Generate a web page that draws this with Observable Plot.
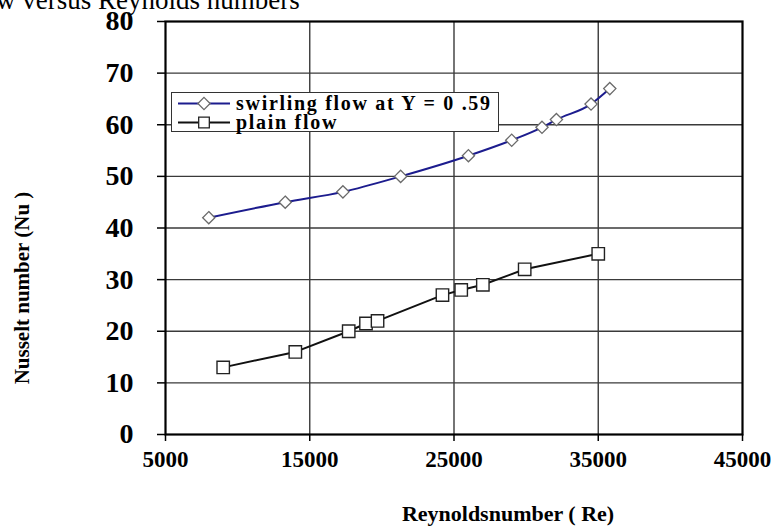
<!DOCTYPE html>
<html>
<head>
<meta charset="utf-8">
<script src="https://cdn.jsdelivr.net/npm/d3@7"></script>
<script src="https://cdn.jsdelivr.net/npm/@observablehq/plot@0.6"></script>
<style>
  html, body { margin: 0; padding: 0; background: #fff; }
  #wrap { position: relative; width: 778px; height: 526px; overflow: hidden; font-family: "Liberation Serif", "Times New Roman", serif; }
  #title { position: absolute; left: -4px; top: -10px; font-size: 27px; line-height: 20px; white-space: nowrap; color: #000; }
  #legend { position: absolute; left: 171px; top: 92px; width: 328px; height: 40px; border: 1.5px solid #333; background: #fff; box-sizing: border-box; }
  #legend .row { position: absolute; left: 0; height: 19px; display: flex; align-items: center; }
  #legend .lbl { font-weight: bold; font-size: 20px; line-height: 17px; letter-spacing: 1.7px; margin-left: 5px; white-space: nowrap; }
  svg text { font-family: "Liberation Serif", "Times New Roman", serif; }
</style>
</head>
<body>
<div id="wrap">
  <div id="chart"></div>
  <div id="title"></div>
  <div id="legend"></div>
</div>
<script>
const titleText = "w versus Reynolds numbers";
const xLabel = "Reynoldsnumber ( Re)";
const yLabel = "Nusselt number (Nu )";
const seriesNames = ["swirling flow at Y = 0 .59", "plain flow"];
const seriesColors = ["#1c1c8e", "#111111"];

const xTicks = [5000, 15000, 25000, 35000, 45000];
const yTicks = [0, 10, 20, 30, 40, 50, 60, 70, 80];

const swirlRe = [8000, 13300, 17300, 21300, 26000, 29000, 31100, 32100, 34500, 35800];
const swirlNu = [42, 45, 47, 50, 54, 57, 59.5, 61, 64, 67];
const plainRe = [9000, 14000, 17700, 18900, 19700, 24200, 25500, 27000, 29900, 35000];
const plainNu = [13, 16, 20, 21.5, 22, 27, 28, 29, 32, 35];

const swirl = swirlRe.map((x, i) => ({x, y: swirlNu[i]}));
const plain = plainRe.map((x, i) => ({x, y: plainNu[i]}));

document.getElementById("title").textContent = titleText;

const chart = Plot.plot({
  width: 778,
  height: 526,
  marginLeft: 165,
  marginRight: 36,
  marginTop: 21,
  marginBottom: 92,
  style: {background: "transparent", fontFamily: "'Liberation Serif', 'Times New Roman', serif", color: "#000"},
  x: {domain: [5000, 45000], ticks: xTicks},
  y: {domain: [0, 80], ticks: yTicks},
  marks: [
    Plot.ruleX(xTicks.slice(1, -1), {stroke: "#3a3a3a", strokeWidth: 1.4}),
    Plot.ruleY(yTicks.slice(1, -1), {stroke: "#3a3a3a", strokeWidth: 1.4}),
    Plot.frame({stroke: "#000", strokeWidth: 2.2}),
    Plot.axisX({ticks: xTicks, tickSize: 7, tickPadding: 9, tickFormat: d => String(d), fontSize: 23, fontWeight: "bold", letterSpacing: "1.5px", strokeWidth: 1.5, label: null}),
    Plot.axisY({ticks: yTicks, tickSize: 8, tickPadding: 24, tickFormat: d => String(d), fontSize: 28, fontWeight: "bold", letterSpacing: "1.5px", strokeWidth: 1.5, label: null}),
    Plot.text([xLabel], {text: d => d, frameAnchor: "bottom", textAnchor: "middle", dx: 54, dy: 79, fontSize: 22, fontWeight: "bold", letterSpacing: "2.4px", lineAnchor: "middle"}),
    Plot.text([yLabel], {text: d => d, frameAnchor: "left", textAnchor: "middle", dx: -143, dy: 60, rotate: -90, fontSize: 21, fontWeight: "bold", letterSpacing: "1.5px", lineAnchor: "middle"}),
    Plot.line(plain, {x: "x", y: "y", stroke: seriesColors[1], strokeWidth: 2}),
    Plot.line(swirl, {x: "x", y: "y", stroke: seriesColors[0], strokeWidth: 2, curve: "monotone-x"}),
    Plot.dot(swirl, {x: "x", y: "y", symbol: "diamond2", r: 5.5, fill: "#fff", stroke: "#6a6a6a", strokeWidth: 1.3}),
    Plot.dot(plain, {x: "x", y: "y", symbol: "square", r: 7, fill: "#fff", stroke: "#222", strokeWidth: 1.4})
  ]
});
document.getElementById("chart").appendChild(chart);

// legend
const leg = d3.select("#legend");
const tops = [1, 20];
const symbols = [d3.symbolDiamond2, d3.symbolSquare];
const symSize = [Math.PI * 5.5 * 5.5, Math.PI * 6 * 6];
const symStroke = ["#6a6a6a", "#222"];
seriesNames.forEach((name, i) => {
  const row = leg.append("div").attr("class", "row").style("top", tops[i] + "px").style("left", "5px");
  const s = row.append("svg").attr("width", 54).attr("height", 19);
  s.append("line").attr("x1", 1).attr("x2", 53).attr("y1", 9.5).attr("y2", 9.5)
    .attr("stroke", seriesColors[i]).attr("stroke-width", 2);
  s.append("path").attr("d", d3.symbol(symbols[i], symSize[i])())
    .attr("transform", "translate(27,9.5)").attr("fill", "#fff")
    .attr("stroke", symStroke[i]).attr("stroke-width", 1.3);
  row.append("span").attr("class", "lbl").text(name);
});
</script>
</body>
</html>
